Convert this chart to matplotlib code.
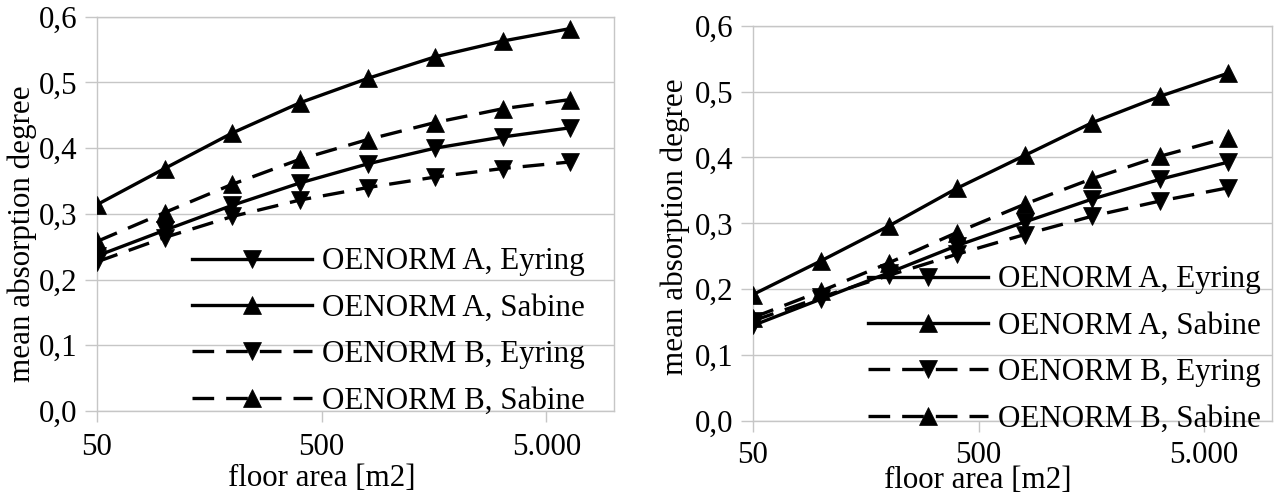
import matplotlib
matplotlib.use("Agg")
import matplotlib.pyplot as plt
from matplotlib.ticker import FixedLocator, FixedFormatter, NullLocator

# ---- data ----
floor_area = [50, 100, 200, 400, 800, 1600, 3200, 6400]

left_a_eyring = [0.236, 0.275, 0.313, 0.347, 0.376, 0.400, 0.417, 0.431]
left_a_sabine = [0.314, 0.369, 0.423, 0.469, 0.506, 0.539, 0.563, 0.582]
left_b_eyring = [0.227, 0.264, 0.296, 0.321, 0.340, 0.356, 0.369, 0.379]
left_b_sabine = [0.258, 0.302, 0.345, 0.383, 0.413, 0.439, 0.460, 0.474]

right_a_eyring = [0.145, 0.185, 0.225, 0.266, 0.302, 0.337, 0.367, 0.393]
right_a_sabine = [0.192, 0.243, 0.296, 0.353, 0.403, 0.453, 0.493, 0.528]
right_b_eyring = [0.152, 0.188, 0.221, 0.253, 0.283, 0.311, 0.334, 0.354]
right_b_sabine = [0.157, 0.197, 0.240, 0.286, 0.329, 0.368, 0.402, 0.430]

series_labels = ["OENORM A, Eyring", "OENORM A, Sabine",
                 "OENORM B, Eyring", "OENORM B, Sabine"]
x_ticks = [50, 500, 5000]
x_tick_labels = ["50", "500", "5.000"]
y_ticks = [0.0, 0.1, 0.2, 0.3, 0.4, 0.5, 0.6]
y_tick_labels = ["0,0", "0,1", "0,2", "0,3", "0,4", "0,5", "0,6"]
x_label = "floor area [m2]"
y_label = "mean absorption degree"

# ---- style ----
plt.rcParams['font.family'] = ['Liberation Serif', 'DejaVu Serif']
FS = 22.3
GRID = '#c6c6c6'
W, H = 1276, 495

fig = plt.figure(figsize=(W / 100, H / 100), dpi=100)
fig.patch.set_facecolor('white')


def px_axes(x0, ytop, x1, ybot):
    return [x0 / W, (H - ybot) / H, (x1 - x0) / W, (ybot - ytop) / H]


ax1 = fig.add_axes(px_axes(97, 16.7, 614, 411))
ax2 = fig.add_axes(px_axes(753, 25.7, 1272, 421))

panels = [
    (ax1, [left_a_eyring, left_a_sabine, left_b_eyring, left_b_sabine],
     (192, 247.5), (322, 479), (22, 234), 8.0),
    (ax2, [right_a_eyring, right_a_sabine, right_b_eyring, right_b_sabine],
     (868, 265.5), (978, 481), (675, 226.5), 6.5),
]

styles = [
    dict(linestyle='-', marker='v'),
    dict(linestyle='-', marker='^'),
    dict(linestyle=(0, (6.5, 3.6)), marker='v'),
    dict(linestyle=(0, (6.5, 3.6)), marker='^'),
]

for ax, series, leg_pos, xl_pos, yl_pos, xpad in panels:
    for vals, lab, st in zip(series, series_labels, styles):
        ax.plot(floor_area, vals, color='black', lw=2.4, ms=13.5,
                markeredgewidth=0.5, label=lab, zorder=3, **st)
    ax.set_xscale('log')
    ax.set_xlim(50, 10000)
    ax.set_ylim(0, 0.6)
    ax.xaxis.set_major_locator(FixedLocator(x_ticks))
    ax.xaxis.set_major_formatter(FixedFormatter(x_tick_labels))
    ax.xaxis.set_minor_locator(NullLocator())
    ax.yaxis.set_major_locator(FixedLocator(y_ticks))
    ax.yaxis.set_major_formatter(FixedFormatter(y_tick_labels))
    ax.tick_params(axis='both', which='major', direction='out', color=GRID,
                   width=1.0, labelsize=FS, labelcolor='black')
    ax.tick_params(axis='y', length=8.6, pad=5.5)
    ax.tick_params(axis='x', length=8.0, pad=xpad)
    ax.grid(axis='y', color=GRID, lw=1.0, zorder=0)
    ax.set_axisbelow(True)
    for sp in ax.spines.values():
        sp.set_color(GRID)
        sp.set_linewidth(1.0)
    ax.set_xlabel(x_label, fontsize=FS, va='center', ha='center')
    ax.xaxis.set_label_coords(xl_pos[0] / W, 1 - xl_pos[1] / H,
                              transform=fig.transFigure)
    ax.set_ylabel(y_label, fontsize=FS, va='center', ha='center')
    ax.yaxis.set_label_coords(yl_pos[0] / W, 1 - yl_pos[1] / H,
                              transform=fig.transFigure)
    leg = ax.legend(loc='upper left',
                    bbox_to_anchor=(leg_pos[0] / W, 1 - leg_pos[1] / H),
                    bbox_transform=fig.transFigure,
                    frameon=False, fontsize=FS, numpoints=1,
                    handlelength=3.87, handletextpad=0.32,
                    labelspacing=0.56, borderpad=0, borderaxespad=0)
    leg.set_zorder(5)

fig.savefig('out.png', dpi=100, facecolor='white')
